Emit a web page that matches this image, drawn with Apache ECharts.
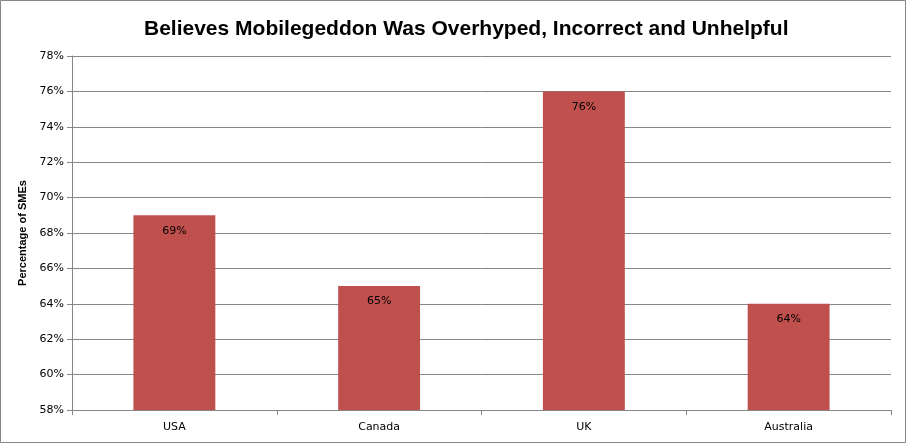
<!DOCTYPE html>
<html><head><meta charset="utf-8">
<script src="https://cdn.jsdelivr.net/npm/echarts@6/dist/echarts.min.js"></script>
<style>html,body{margin:0;padding:0;background:#fff}#c{width:907px;height:444px}</style>
</head><body><div id="c"></div>
<script>
const categories = ['USA', 'Canada', 'UK', 'Australia'];
const values = [69, 65, 76, 64];
const titleText = 'Believes Mobilegeddon Was Overhyped, Incorrect and Unhelpful';
const yAxisName = 'Percentage of SMEs';

const chart = echarts.init(document.getElementById('c'));
chart.setOption({
  animation: false,
  title: {
    text: titleText, left: 139, top: 14,
    textStyle: { fontFamily: 'Liberation Sans, sans-serif', fontWeight: 'bold', fontSize: 21, color: '#000' }
  },
  graphic: [{ type: 'rect', shape: { x: 0.5, y: 0.5, width: 905, height: 442 }, style: { fill: 'none', stroke: '#868686', lineWidth: 1 } }],
  grid: { left: 72, right: 16, top: 56, bottom: 34 },
  xAxis: {
    type: 'category', data: categories,
    axisLine: { lineStyle: { color: '#868686' } },
    axisTick: { show: true, length: 5, lineStyle: { color: '#868686' } },
    axisLabel: { color: '#000', fontSize: 11, fontFamily: 'DejaVu Sans', margin: 12 }
  },
  yAxis: {
    type: 'value', min: 58, max: 78, interval: 2,
    name: yAxisName, nameLocation: 'middle', nameGap: 42,
    nameTextStyle: { fontWeight: 'bold', fontSize: 11, color: '#000', fontFamily: 'Liberation Sans' },
    axisLine: { show: true, lineStyle: { color: '#868686' } },
    axisTick: { show: true, length: 5, lineStyle: { color: '#868686' } },
    splitLine: { lineStyle: { color: '#868686' } },
    axisLabel: { formatter: '{value}%', color: '#000', fontSize: 11, fontFamily: 'DejaVu Sans', margin: 8 }
  },
  series: [{
    type: 'bar', data: values, barWidth: '40%',
    itemStyle: { color: '#C0504D' },
    label: { show: true, position: 'insideTop', distance: 10, formatter: '{c}%', color: '#000', fontSize: 11, fontFamily: 'DejaVu Sans' }
  }]
});
</script></body></html>
